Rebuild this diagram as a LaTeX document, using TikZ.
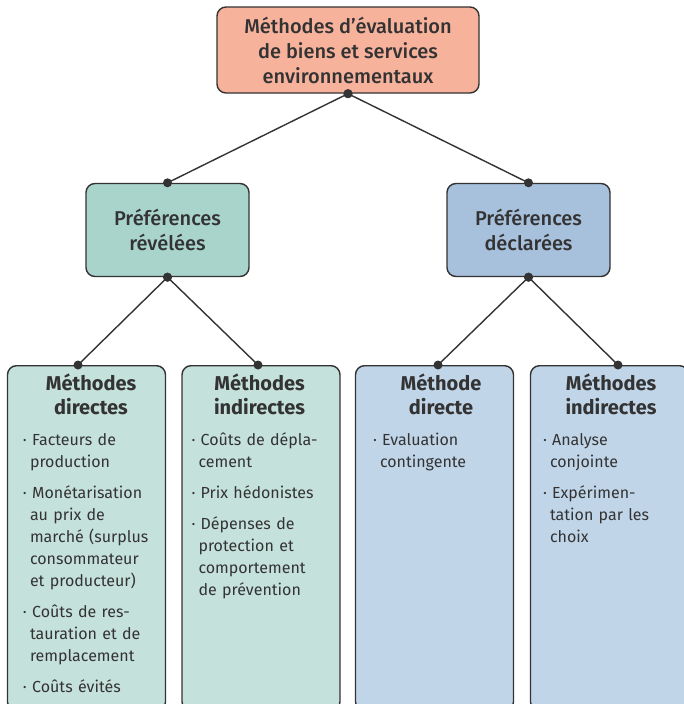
\documentclass[tikz,border=0pt]{standalone}
\usepackage{fontspec}
\setmainfont{Fira Sans}
\newfontfamily\fsmedium{Fira Sans Medium}
\usepackage{xcolor}
\usepackage{tikz}
\definecolor{evalsalmon}{HTML}{F7B29C}
\definecolor{evalteal}{HTML}{A9D4CB}
\definecolor{evalblue}{HTML}{A7C0DC}
\definecolor{evaltealpale}{HTML}{C5E1DB}
\definecolor{evalbluepale}{HTML}{C1D5E9}
\definecolor{evalgray}{HTML}{333333}
\usetikzlibrary{positioning, calc}
\newcommand{\itm}[1]{\par\hangindent=7pt\hangafter=1\textperiodcentered\ #1\par}

\begin{document}
\begin{tikzpicture}[
    x=1pt, y=-1pt,
    box/.style={rectangle, rounded corners=9pt, draw=evalgray, line width=1.4pt, align=center, text=evalgray, font=\fsmedium\fontsize{20}{25}\selectfont},
    root/.style={box, fill=evalsalmon, minimum width=262pt, minimum height=86pt},
    pref/.style={box, fill=#1, minimum width=163pt, minimum height=93pt},
    method/.style={box, fill=#1, minimum width=158pt, minimum height=345pt, anchor=north},
    itemtext/.style={anchor=north west, inner sep=0pt, text width=136pt, text=evalgray, font=\fontsize{16}{22}\selectfont},
    link/.style={draw=evalgray, line width=1.4pt},
]
\useasboundingbox (0,0) rectangle (683,704);
\node[root] (root) at (348,50) {Méthodes d’évaluation\\de biens et services\\environnementaux};
\node[pref=evalteal] (rev) at (167.5,230) {Préférences\\révélées};
\node[pref=evalblue] (dec) at (528.5,230) {Préférences\\déclarées};

\node[method=evaltealpale] (dir) at (86.5,365) {};
\node[method=evaltealpale] (ind) at (261,365) {};
\node[method=evalbluepale] (cdir) at (434.5,365) {};
\node[method=evalbluepale] (cind) at (609.5,365) {};

% contenu des boites
\node[itemtext] (dirtxt) at ([xshift=16pt,yshift=-9pt]dir.north west) {%
  \setlength{\parskip}{9pt}%
  {\centering\fontsize{20}{24}\selectfont\bfseries Méthodes\\directes\par}
  \raggedright
  \itm{Facteurs de\newline production}
  \itm{Monétarisation\newline au prix de\newline marché (surplus\newline consommateur\newline et producteur)}
  \itm{Coûts de res-\newline tauration et de\newline remplacement}
  \itm{Coûts évités}};
\node[itemtext] (indtxt) at ([xshift=10pt,yshift=-9pt]ind.north west) {%
  \setlength{\parskip}{9pt}%
  {\centering\fontsize{20}{24}\selectfont\bfseries Méthodes\\indirectes\par}
  \raggedright
  \itm{Coûts de dépla-\newline cement}
  \itm{Prix hédonistes}
  \itm{Dépenses de\newline protection et\newline comportement\newline de prévention}};
\node[itemtext] (cdirtxt) at ([xshift=18pt,yshift=-9pt]cdir.north west) {%
  \setlength{\parskip}{9pt}%
  {\centering\fontsize{20}{24}\selectfont\bfseries Méthode\\directe\par}
  \raggedright
  \itm{Evaluation\newline contingente}};
\node[itemtext] (cindtxt) at ([xshift=13pt,yshift=-9pt]cind.north west) {%
  \setlength{\parskip}{9pt}%
  {\centering\fontsize{20}{24}\selectfont\bfseries Méthodes\\indirectes\par}
  \raggedright
  \itm{Analyse\newline conjointe}
  \itm{Expérimen-\newline tation par les\newline choix}};

% liens
\foreach \a/\b/\s in {root/rev/0, root/dec/0, rev/dir/-8.5, rev/ind/-3, dec/cdir/3.5, dec/cind/8.5} {
  \draw[link] (\a.south) -- ([xshift=\s pt]\b.north);
  \fill[evalgray] (\a.south) circle (4.5pt) ([xshift=\s pt]\b.north) circle (4.5pt);
}
\end{tikzpicture}
\end{document}
